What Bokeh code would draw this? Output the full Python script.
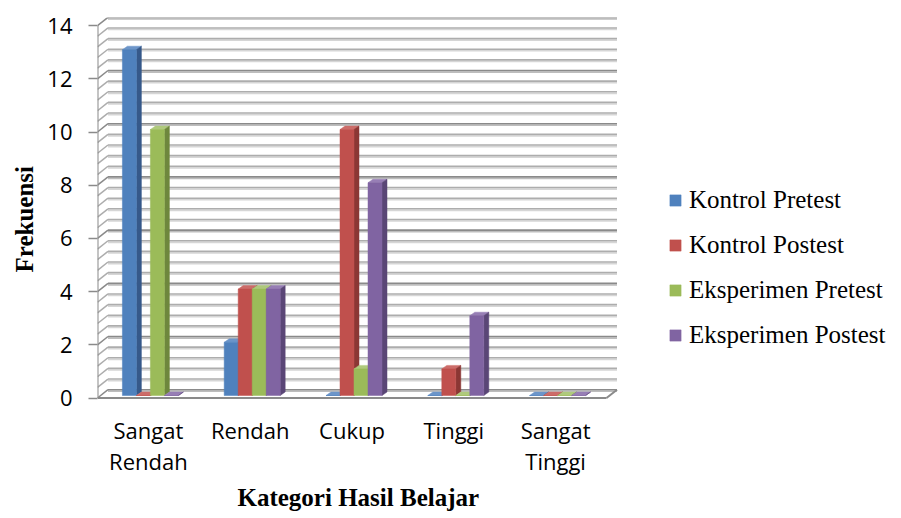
from bokeh.plotting import figure
from bokeh.models import Range1d, FixedTicker, Legend, LegendItem, Title
from bokeh.embed import file_html
from bokeh.resources import INLINE

# ---------------- data ----------------
categories = ["Sangat\nRendah", "Rendah", "Cukup", "Tinggi", "Sangat\nTinggi"]
series_names = ["Kontrol Pretest", "Kontrol Postest", "Eksperimen Pretest", "Eksperimen Postest"]
kontrol_pretest = [13, 2, 0, 0, 0]
kontrol_postest = [0, 4, 10, 1, 0]
eksperimen_pretest = [10, 4, 1, 0, 0]
eksperimen_postest = [0, 4, 8, 3, 0]
y_ticks = [0, 2, 4, 6, 8, 10, 12, 14]
y_max = 14
minor_step = 0.4

series_values = [kontrol_pretest, kontrol_postest, eksperimen_pretest, eksperimen_postest]

# ---------------- styles ----------------
front_col = ["#4F81BD", "#C0504D", "#9BBB59", "#8064A2"]
side_col = ["#36598A", "#8B3734", "#6E873D", "#5A4676"]
top_col = ["#6C95C9", "#CC6C69", "#AFC97C", "#977EB5"]
major_col, major_shadow = "#8A8A8A", "#BDBDBD"
minor_col, minor_shadow = "#ADADAD", "#D6D6D6"

SX = 101.8   # px per category unit
SY = 26.6    # px per value unit
WALL_DX, WALL_DY = 10.5 / SX, 8.3 / SY
SHADOW_DY = 1.6 / SY
BAR_OX, BAR_OY = 2.0 / SX, 2.5 / SY
BAR_DX, BAR_DY = 5.0 / SX, 3.5 / SY
BAR_W = 14.0 / SX
n_cat = len(categories)

W, H = 900, 516
LEFT, TOP, BOTTOM = 97, 17, 116
FRAME_W, FRAME_H = W - LEFT, H - TOP - BOTTOM
p = figure(width=W, height=H,
           x_range=Range1d(0, FRAME_W / SX),
           y_range=Range1d(-2.5 / SY, (FRAME_H - 2.5) / SY),
           output_backend="svg", toolbar_location=None,
           min_border_left=LEFT, min_border_right=0, min_border_top=TOP, min_border_bottom=BOTTOM)
p.xgrid.visible = False
p.ygrid.visible = False
p.outline_line_color = None
p.background_fill_color = "white"
p.border_fill_color = "white"

# ---------------- 3D walls / grid ----------------
n_lines = int(round(y_max / minor_step)) + 1
for major in (False, True):
    ys = [k * minor_step for k in range(n_lines)
          if (abs((k * minor_step) / 2 - round((k * minor_step) / 2)) < 1e-6) == major]
    col, shadow = (major_col, major_shadow) if major else (minor_col, minor_shadow)
    # back wall lines (line + light shadow below)
    p.segment(x0=[WALL_DX] * len(ys), y0=[y + WALL_DY - SHADOW_DY for y in ys],
              x1=[n_cat + WALL_DX] * len(ys), y1=[y + WALL_DY - SHADOW_DY for y in ys],
              line_color=shadow, line_width=1.6)
    p.segment(x0=[WALL_DX] * len(ys), y0=[y + WALL_DY for y in ys],
              x1=[n_cat + WALL_DX] * len(ys), y1=[y + WALL_DY for y in ys],
              line_color=col, line_width=1.6)
    # left wall diagonals
    p.segment(x0=[0] * len(ys), y0=ys,
              x1=[WALL_DX] * len(ys), y1=[y + WALL_DY for y in ys],
              line_color=col, line_width=1.5)

p.segment(x0=[0, 0, n_cat], y0=[0, 0, 0],
          x1=[0, n_cat, n_cat + WALL_DX], y1=[y_max, 0, WALL_DY],
          line_color=major_col, line_width=2)

# ---------------- 3D bars ----------------
legend_items = []
for s, vals in enumerate(series_values):
    lefts = [i + 0.5 + (s - 2) * BAR_W + BAR_OX for i in range(n_cat)]
    rights = [l + BAR_W for l in lefts]
    tops = [v + BAR_OY for v in vals]
    top_xs = [[l, r, r + BAR_DX, l + BAR_DX] for l, r in zip(lefts, rights)]
    top_ys = [[t, t, t + BAR_DY, t + BAR_DY] for t in tops]
    side_xs = [[r, r, r + BAR_DX, r + BAR_DX] for r in rights]
    side_ys = [[BAR_OY, t, t + BAR_DY, BAR_OY + BAR_DY] for t in tops]
    p.patches(xs=top_xs, ys=top_ys, fill_color=top_col[s], line_color=top_col[s], line_width=0.5)
    p.patches(xs=side_xs, ys=side_ys, fill_color=side_col[s], line_color=side_col[s], line_width=0.5)
    r = p.quad(left=lefts, right=rights, bottom=[BAR_OY] * n_cat, top=tops,
               fill_color=front_col[s], line_color=front_col[s], line_width=0.5)
    legend_items.append(LegendItem(label=series_names[s], renderers=[r]))

# ---------------- axes ----------------
ya = p.yaxis[0]
ya.ticker = FixedTicker(ticks=y_ticks)
ya.axis_line_color = None
ya.major_tick_out = 9
ya.major_tick_in = 0
ya.major_tick_line_color = major_col
ya.major_tick_line_width = 1.5
ya.minor_tick_line_color = None
ya.major_label_text_font = "Open Sans"
ya.major_label_text_font_size = "22px"
ya.major_label_text_color = "black"
ya.major_label_standoff = 16

xa = p.xaxis[0]
cat_pos = [i + 0.5 for i in range(n_cat)]
xa.ticker = FixedTicker(ticks=cat_pos)
xa.major_label_overrides = {pos: c for pos, c in zip(cat_pos, categories)}
xa.axis_line_color = None
xa.major_tick_line_color = None
xa.minor_tick_line_color = None
xa.major_label_text_font = "Open Sans"
xa.major_label_text_font_size = "22px"
xa.major_label_text_color = "black"
xa.major_label_text_line_height = 1.05
xa.major_label_standoff = 8

p.add_layout(Title(text="Kategori Hasil Belajar", align="left", offset=140,
                   text_font="Liberation Serif", text_font_size="25px",
                   text_font_style="bold", text_color="black", standoff=4), "below")
p.add_layout(Title(text="Frekuensi", align="left", offset=128,
                   text_font="Liberation Serif", text_font_size="25px",
                   text_font_style="bold", text_color="black", standoff=14), "left")

legend = Legend(items=legend_items, location=(571, 50),
                label_text_font="Liberation Serif", label_text_font_size="25px",
                label_text_color="black",
                glyph_width=14, glyph_height=14, label_standoff=7,
                label_height=30, spacing=15, padding=0, margin=0,
                background_fill_alpha=0, border_line_alpha=0)
p.add_layout(legend)

open("out.html", "w").write(file_html(p, INLINE))
